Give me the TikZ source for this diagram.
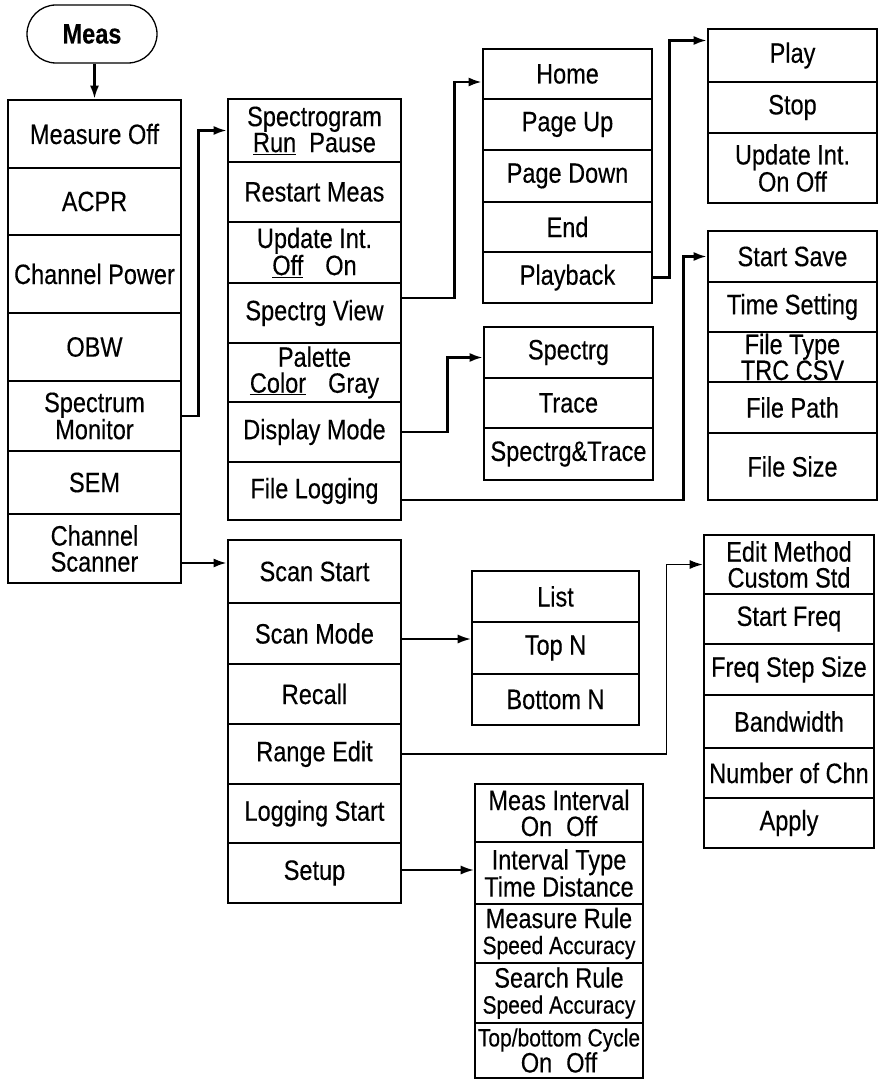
\documentclass[tikz,border=0pt]{standalone}
\usepackage{fontspec}
\setmainfont[FakeStretch=0.84,FakeBold=0.3]{Liberation Sans}
\usetikzlibrary{arrows.meta,shapes.misc}
\newcommand\mkcell[6]{\node[cell,minimum width={#3pt-#2pt},minimum height={#5pt-#4pt}] (#1) at ({(#2+#3)/2},{(#4+#5)/2}) {#6};}
\newcommand\smallf{\fontsize{25}{23}\selectfont}
\tikzset{
 cell/.style={draw, line width=2.6pt, inner sep=0pt, align=center, font=\fontsize{28}{26}\selectfont},
 wide/.style={font=\fontsize{28}{30}\selectfont},
 conn/.style={line width=2.4pt},
 thinconn/.style={line width=1.4pt},
 tip/.style={-{Latex[length=13pt,width=9pt]}}
}
\begin{document}
\begin{tikzpicture}[x=1pt,y=-1pt]
\useasboundingbox[fill=white] (0,0) rectangle (879,1083);
% Meas
\node[draw, rounded rectangle, line width=1.3pt, minimum width=130pt, minimum height=58pt, inner sep=0pt, font=\bfseries\fontsize{28}{26}\selectfont] (meas) at (92,34) {Meas};
% left column
\mkcell{mo}{8}{181}{100}{168}{Measure Off}
\mkcell{acpr}{8}{181}{168}{235}{ACPR}
\mkcell{cp}{8}{181}{235}{313}{Channel Power}
\mkcell{obw}{8}{181}{313}{381}{OBW}
\mkcell{sm}{8}{181}{381}{451}{\fontsize{28}{30}\selectfont Spectrum\\Monitor}
\mkcell{sem}{8}{181}{451}{514}{SEM}
\mkcell{cs}{8}{181}{514}{583}{\fontsize{28}{30}\selectfont Channel\\Scanner}
% spectrogram column
\mkcell{sg}{228}{401}{99}{162}{Spectrogram\\\underline{Run}\ \ Pause}
\mkcell{rm}{228}{401}{162}{222}{Restart Meas}
\mkcell{ui}{228}{401}{222}{283}{Update Int.\\\underline{Off}\hspace{22pt}On}
\mkcell{sv}{228}{401}{283}{343}{Spectrg View}
\mkcell{pal}{228}{401}{343}{402}{Palette\\\underline{Color}\hspace{22pt}Gray}
\mkcell{dm}{228}{401}{402}{462}{Display Mode}
\mkcell{fl}{228}{401}{462}{520}{File Logging}
% home column
\mkcell{home}{483}{652}{49}{99}{Home}
\mkcell{pu}{483}{652}{99}{150}{Page Up}
\mkcell{pd}{483}{652}{150}{202}{Page Down}
\mkcell{end}{483}{652}{202}{252}{End}
\mkcell{pb}{483}{652}{252}{303}{Playback}
% play column
\mkcell{play}{708}{877}{29}{82}{Play}
\mkcell{stop}{708}{877}{82}{133}{Stop}
\mkcell{uitwo}{708}{877}{133}{203}{Update Int.\\On Off}
% spectrg column
\mkcell{spg}{484}{653}{327}{378}{Spectrg}
\mkcell{tr}{484}{653}{378}{428}{Trace}
\mkcell{st}{484}{653}{428}{480}{Spectrg\&Trace}
% start save column
\mkcell{ss}{708}{877}{231}{282}{Start Save}
\mkcell{ts}{708}{877}{282}{332}{Time Setting}
\mkcell{ft}{708}{877}{332}{382}{File Type\\TRC CSV}
\mkcell{fp}{708}{877}{382}{433}{File Path}
\mkcell{fs}{708}{877}{433}{500}{File Size}
% channel scanner column
\mkcell{sst}{228}{401}{540}{603}{Scan Start}
\mkcell{smd}{228}{401}{603}{664}{Scan Mode}
\mkcell{rec}{228}{401}{664}{724}{Recall}
\mkcell{re}{228}{401}{724}{784}{Range Edit}
\mkcell{ls}{228}{401}{784}{843}{Logging Start}
\mkcell{setup}{228}{401}{843}{903}{Setup}
% list column
\mkcell{list}{472}{639}{571}{622}{List}
\mkcell{topn}{472}{639}{622}{674}{Top N}
\mkcell{botn}{472}{639}{674}{725}{Bottom N}
% edit column
\mkcell{em}{704}{874}{535}{594}{Edit Method\\Custom Std}
\mkcell{sf}{704}{874}{594}{644}{Start Freq}
\mkcell{fss}{704}{874}{644}{695}{Freq Step Size}
\mkcell{bw}{704}{874}{695}{748}{Bandwidth}
\mkcell{nc}{704}{874}{748}{798}{Number of Chn}
\mkcell{ap}{704}{874}{798}{848}{Apply}
% setup column
\mkcell{mi}{475}{643}{784}{842}{Meas Interval\\On\hspace{14pt}Off}
\mkcell{it}{475}{643}{842}{904}{Interval Type\\Time Distance}
\mkcell{mr}{475}{643}{904}{963}{Measure Rule\\{\smallf Speed Accuracy}}
\mkcell{sr}{475}{643}{963}{1023}{Search Rule\\{\smallf Speed Accuracy}}
\mkcell{tb}{475}{643}{1023}{1078}{{\smallf Top/bottom Cycle}\\On\hspace{14pt}Off}
% connectors
\draw[conn,tip] (meas.south -| mo.north) -- (mo.north);
\draw[conn,tip] (sm.east) -- ++(16,0) |- (sg.west);
\draw[conn,tip] ([yshift=15pt]sv.east) -- ++(52,0) |- ([yshift=-8pt]home.west);
\draw[conn,tip] (pb.east) -- ++(16,0) |- ([yshift=15pt]play.west);
\draw[conn,tip] (dm.east) -- ++(45,0) |- ([yshift=-5pt]spg.west);
\draw[conn,tip] ([yshift=-9pt]fl.east) -- ++(281,0) |- (ss.west);
\coordinate (csA) at ([yshift=-14.5pt]cs.east);
\draw[conn,tip] (csA) -- (csA -| sst.west);
\coordinate (smA) at ([yshift=-5.5pt]smd.east);
\draw[thinconn,tip] (smA) -- (smA -| list.west);
\draw[thinconn,tip] (re.east) -- ++(264,0) |- (em.west);
\coordinate (stA) at ([yshift=3pt]setup.east);
\draw[thinconn,tip] (stA) -- (stA -| mi.west);
\end{tikzpicture}
\end{document}
